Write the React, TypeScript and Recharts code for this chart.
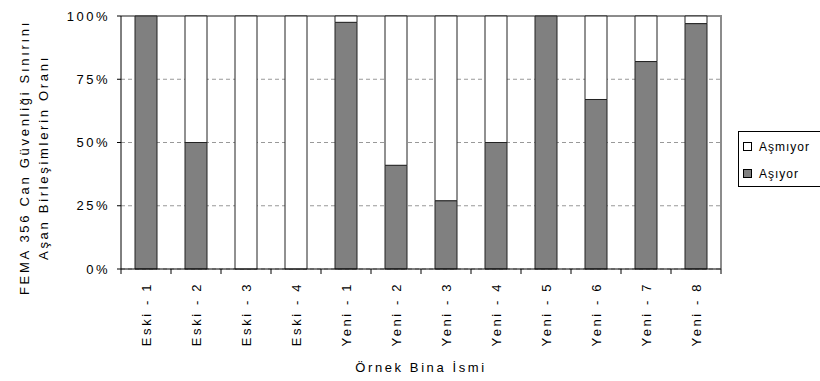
import React from 'react';
import * as Recharts from 'recharts';
import { BarChart, Bar, XAxis, YAxis, CartesianGrid, Legend, Label } from 'recharts';

const binalar = ['Eski - 1', 'Eski - 2', 'Eski - 3', 'Eski - 4', 'Yeni - 1', 'Yeni - 2', 'Yeni - 3', 'Yeni - 4', 'Yeni - 5', 'Yeni - 6', 'Yeni - 7', 'Yeni - 8'];
const asiyor = [100, 50, 0, 0, 97.5, 41, 27, 50, 100, 67, 82, 97];
const asmiyor = [0, 50, 100, 100, 2.5, 59, 73, 50, 0, 33, 18, 3];
const yTicks = [0, 25, 50, 75, 100];

const seriler = [
  { key: 'asmiyor', name: 'Aşmıyor', color: '#ffffff' },
  { key: 'asiyor', name: 'Aşıyor', color: '#808080' },
];

const data = binalar.map((b, i) => ({ bina: b, asiyor: asiyor[i], asmiyor: asmiyor[i] }));

const FONT = '"Liberation Sans", Arial, sans-serif';

const noop = (): any => undefined;
const useOff = (Recharts as any).useOffset || noop;
const useW = (Recharts as any).useChartWidth || noop;
const useH = (Recharts as any).useChartHeight || noop;

// solid grey top and right edges of the plot area
const Cerceve = () => {
  const off = useOff();
  const cw = useW();
  const ch = useH();
  if (!off || !cw || !ch) return null;
  const x0 = off.left;
  const y0 = off.top;
  const x1 = cw - off.right;
  const y1 = ch - off.bottom;
  return (
    <path
      d={`M${x0},${y0} L${x1},${y0} L${x1},${y1}`}
      stroke="#8c8c8c"
      strokeWidth={1.5}
      fill="none"
      shapeRendering="crispEdges"
    />
  );
};

const BinaTick = (props: any) => {
  const { x, y, payload, index, width, visibleTicksCount } = props;
  const count = visibleTicksCount || binalar.length;
  const half = (Number(width) || 600) / count / 2;
  const ty = y + 13;
  return (
    <g>
      <line x1={x - half} y1={y} x2={x - half} y2={y + 5} stroke="#000" />
      {index === count - 1 && <line x1={x + half} y1={y} x2={x + half} y2={y + 5} stroke="#000" />}
      <text
        x={x}
        y={ty}
        dy="0.35em"
        transform={`rotate(-90, ${x}, ${ty})`}
        textAnchor="end"
        fontSize={13}
        fontFamily={FONT}
        letterSpacing={2.6}
        fill="#000"
      >
        {payload.value}
      </text>
    </g>
  );
};

const YTitle = (props: any) => {
  const { viewBox } = props;
  const cy = viewBox.y + viewBox.height / 2 + 15;
  return (
    <g fontSize={13} fontFamily={FONT} letterSpacing={2.7} fill="#000">
      <text x={29} y={cy} transform={`rotate(-90, 29, ${cy})`} textAnchor="middle">
        FEMA 356 Can Güvenliği Sınırını
      </text>
      <text x={48} y={cy} transform={`rotate(-90, 48, ${cy})`} textAnchor="middle">
        Aşan Birleşimlerin Oranı
      </text>
    </g>
  );
};

const KutuLegend = () => (
  <div
    style={{
      border: '1px solid #000',
      background: '#fff',
      width: 84,
      height: 56,
      boxSizing: 'border-box',
      padding: '3px 0 0 4px',
      fontFamily: FONT,
      fontSize: 12,
      letterSpacing: 1,
      color: '#000',
    }}
  >
    {seriler.map((s) => (
      <div key={s.key} style={{ display: 'flex', alignItems: 'center', height: 23, marginBottom: 4 }}>
        <span style={{ display: 'inline-block', width: 7, height: 7, border: '1px solid #000', background: s.color, marginRight: 7 }} />
        <span>{s.name}</span>
      </div>
    ))}
  </div>
);

export default function App() {
  return (
    <div style={{ position: 'absolute', left: 0, top: 0, width: 820, height: 381, background: '#fff' }}>
      <BarChart
        width={820}
        height={381}
        data={data}
        margin={{ top: 16, right: 99, bottom: 12, left: 0 }}
        barSize={22}
      >
        <CartesianGrid vertical={false} stroke="#999" strokeDasharray="4 3" />
        <Cerceve />
        <XAxis
          dataKey="bina"
          type="category"
          height={100}
          axisLine={{ stroke: '#000' }}
          tickLine={false}
          tickSize={0}
          tickMargin={0}
          interval={0}
          tick={<BinaTick />}
        >
          <Label
            value="Örnek Bina İsmi"
            position="insideBottom"
            offset={-3}
            style={{ fontSize: 13, fontFamily: FONT, letterSpacing: 2.6, fill: '#000' }}
          />
        </XAxis>
        <YAxis
          width={121}
          domain={[0, 100]}
          ticks={yTicks}
          tickFormatter={(v) => `${v}%`}
          axisLine={{ stroke: '#000' }}
          tickLine={{ stroke: '#000' }}
          tickSize={4}
          tickMargin={7}
          tick={{ fontSize: 13, fontFamily: FONT, fill: '#000', letterSpacing: 2.5 }}
        >
          <Label content={<YTitle />} />
        </YAxis>
        <Legend
          layout="vertical"
          align="center"
          verticalAlign="middle"
          content={<KutuLegend />}
          wrapperStyle={{ left: 738, top: 131, width: 84 }}
        />
        <Bar dataKey="asiyor" name="Aşıyor" stackId="a" fill="#808080" stroke="#222" isAnimationActive={false} />
        <Bar dataKey="asmiyor" name="Aşmıyor" stackId="a" fill="#ffffff" stroke="#222" isAnimationActive={false} />
      </BarChart>
    </div>
  );
}
